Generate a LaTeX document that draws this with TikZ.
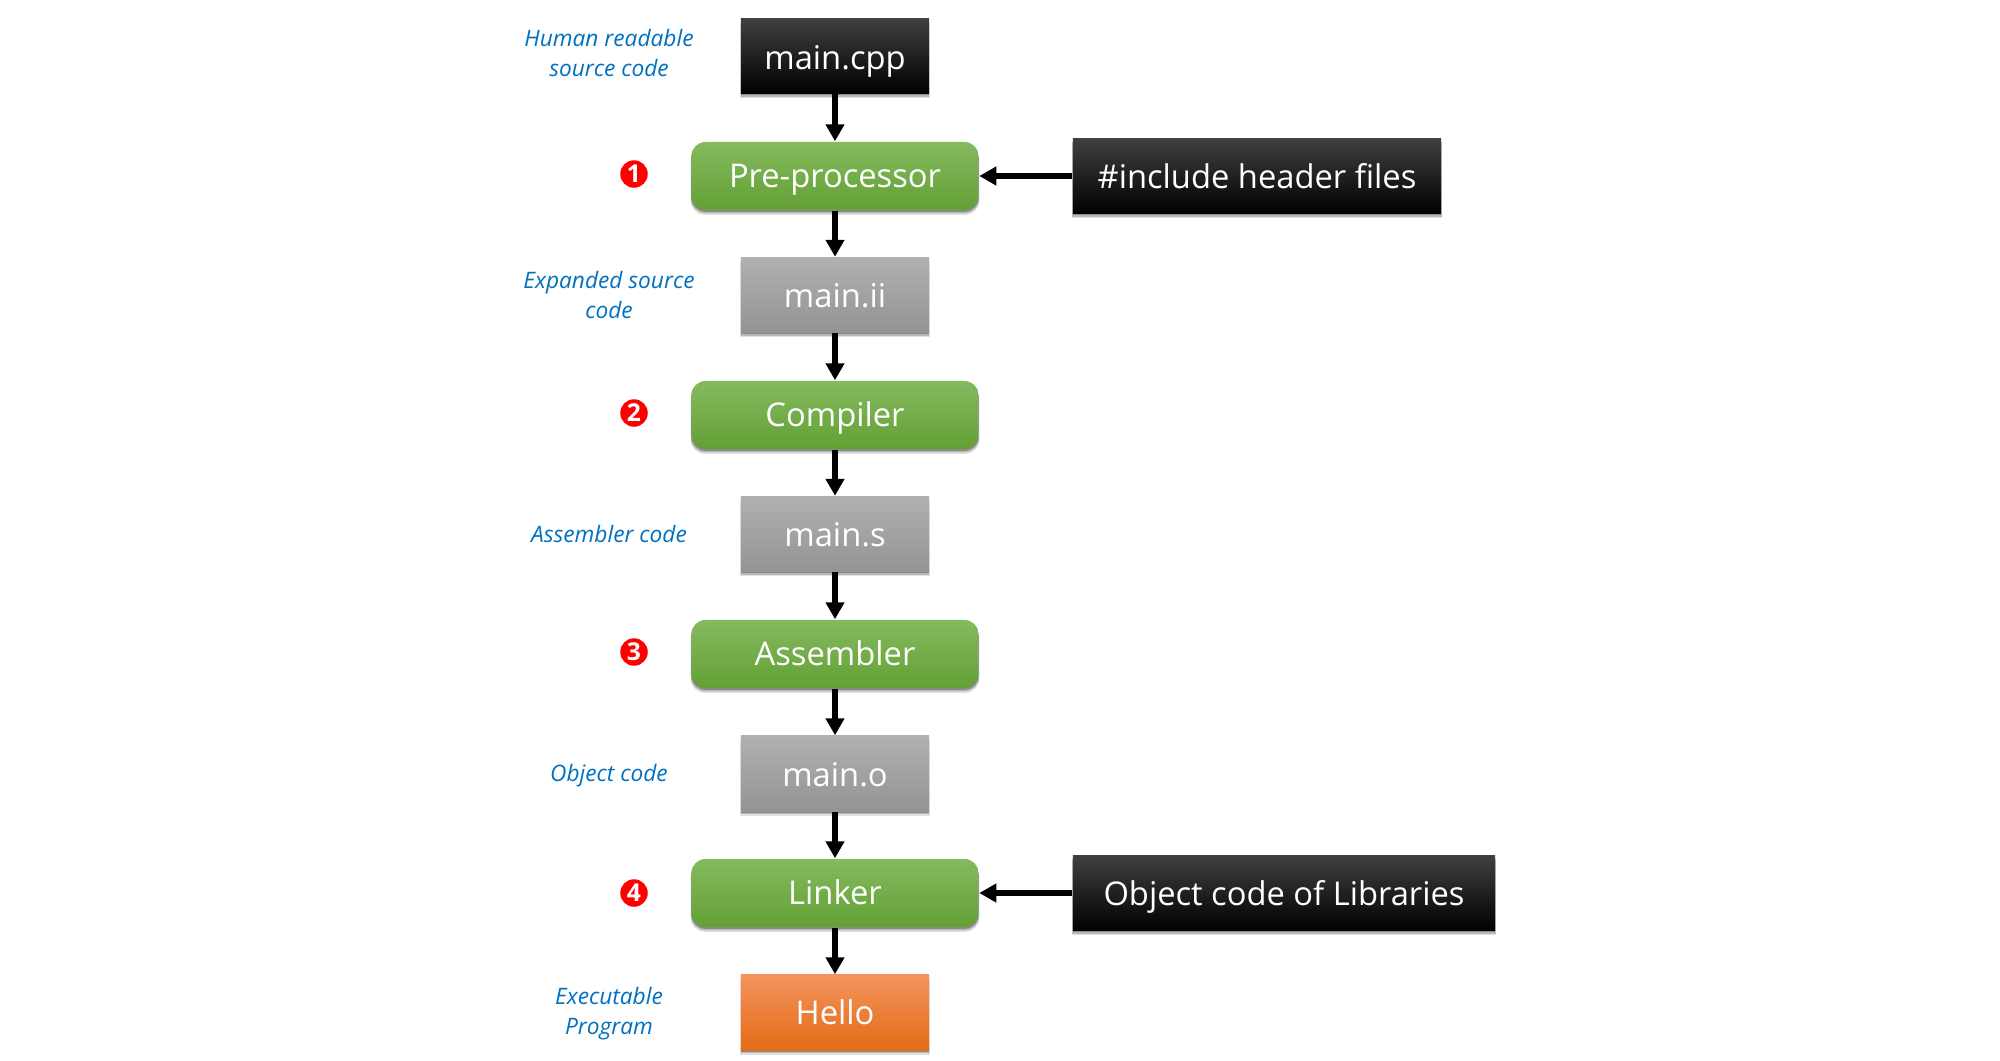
\documentclass[tikz,border=0pt]{standalone}
\usepackage{fontspec}
\setmainfont{Open Sans}
\usetikzlibrary{arrows.meta,shadows}
\definecolor{labelblue}{HTML}{0070C0}
\definecolor{greentop}{HTML}{85BA5F}
\definecolor{greenmid}{HTML}{6FAD3C}
\definecolor{greenbot}{HTML}{62A034}
\definecolor{graytop}{HTML}{B0B0B0}
\definecolor{graymid}{HTML}{A5A5A5}
\definecolor{graybot}{HTML}{949494}
\definecolor{orangetop}{HTML}{F3935C}
\definecolor{orangemid}{HTML}{F57C25}
\definecolor{orangebot}{HTML}{E36C17}
\tikzset{
	x=0.01cm, y=-0.01cm,
	softshadow/.style={
		drop shadow={shadow xshift=0pt, shadow yshift=-1.3pt, shadow scale=1.006, opacity=0.12, fill=black},
		drop shadow={shadow xshift=0pt, shadow yshift=-0.9pt, shadow scale=1.003, opacity=0.18, fill=black},
		drop shadow={shadow xshift=0pt, shadow yshift=-0.5pt, opacity=0.25, fill=black}},
	boxbase/.style={minimum width=1.88cm, minimum height=0.75cm, text=white, font=\fontsize{9.3}{11}\selectfont,
		inner sep=0pt, text height=0.23cm, text depth=0pt, softshadow},
	srcbox/.style={boxbase, text height=0.24cm, top color=black!75, middle color=black, bottom color=black},
	midbox/.style={boxbase, text height=0.25cm, top color=graytop, middle color=graymid, bottom color=graybot},
	exebox/.style={boxbase, top color=orangetop, middle color=orangemid, bottom color=orangebot},
	stagebox/.style={boxbase, minimum width=2.87cm, minimum height=0.68cm, rounded corners=4pt, top color=greentop, middle color=greenmid, bottom color=greenbot},
	note/.style={align=center, text=labelblue, font=\fontsize{6.45}{8.5}\selectfont\itshape},
	badge/.style={circle, fill=red, text=white, minimum size=0.275cm, inner sep=0pt, font=\fontsize{7}{7}\selectfont\bfseries},
	flow/.style={line width=1.6pt, -{Triangle[length=0.17cm, width=0.18cm]}}
}
\begin{document}
\begin{tikzpicture}
	\useasboundingbox (0,0) rectangle (2000,1060);

	%%%%% boxes %%%%%
	\node[srcbox, text height=0.26cm] (maincpp) at (835, 56) {main.cpp};
	\node[stagebox] (preproc) at (835, 176) {Pre-processor};
	\node[midbox] (mainii) at (835, 295) {main.ii};
	\node[stagebox] (compiler) at (835, 415) {Compiler};
	\node[midbox] (mains) at (835, 534) {main.s};
	\node[stagebox] (assembler) at (835, 654) {Assembler};
	\node[midbox] (maino) at (835, 773.5) {main.o};
	\node[stagebox] (linker) at (835, 893) {Linker};
	\node[exebox] (hello) at (835, 1012.5) {Hello};

	\node[srcbox, minimum width=3.68cm] (headers) at (1257, 176) {\#include header files};
	\node[srcbox, minimum width=4.22cm] (libs) at (1284, 893) {Object code of Libraries};

	%%%%% notes and numbers %%%%%
	\node[note] (notecpp) at (609, 53) {Human readable\\source code};
	\node[note] (noteii) at (609, 295) {Expanded source\\code};
	\node[note] (notes) at (609, 534) {Assembler code};
	\node[note] (noteo) at (609, 776) {Object code};
	\node[note] (notehello) at (609, 1014) {Executable\\Program};

	\node[badge] (one) at (634, 174) {1};
	\node[badge] (two) at (634, 413) {2};
	\node[badge] (three) at (634, 652) {3};
	\node[badge] (four) at (634, 893) {4};

	%%%%% arrows %%%%%
	\draw[flow] (maincpp) -- (preproc);
	\draw[flow] (preproc) -- (mainii);
	\draw[flow] (mainii) -- (compiler);
	\draw[flow] (compiler) -- (mains);
	\draw[flow] (mains) -- (assembler);
	\draw[flow] (assembler) -- (maino);
	\draw[flow] (maino) -- (linker);
	\draw[flow] (linker) -- (hello);
	\draw[flow] (headers) -- (preproc);
	\draw[flow] (libs) -- (linker);
\end{tikzpicture}
\end{document}
